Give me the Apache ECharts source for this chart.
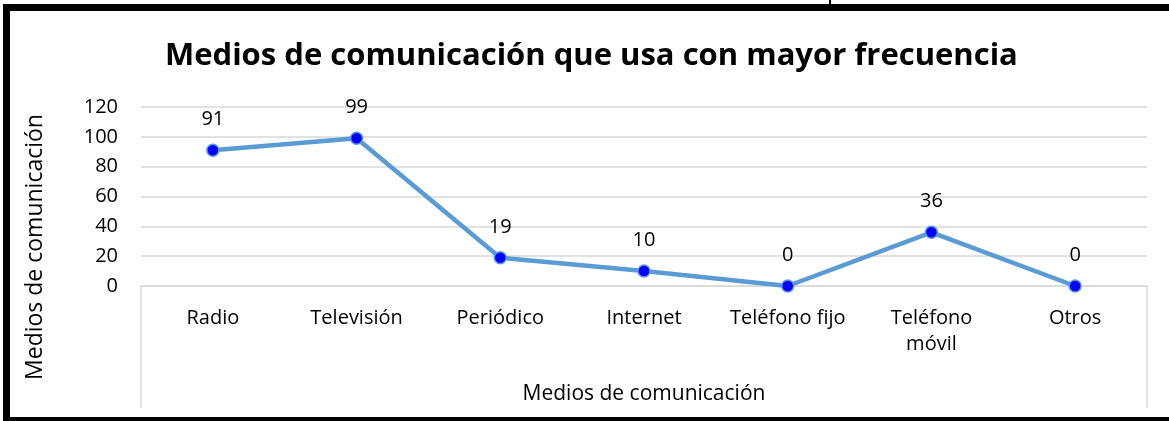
<!DOCTYPE html>
<html><head><meta charset="utf-8">
<script src="https://cdn.jsdelivr.net/npm/echarts@6/dist/echarts.min.js"></script>
<style>html,body{margin:0;padding:0;background:#fff}#c{width:1169px;height:421px}</style>
</head><body><div id="c"></div>
<script>
const categories = ['Radio', 'Televisión', 'Periódico', 'Internet', 'Teléfono fijo', 'Teléfono\nmóvil', 'Otros'];
const values = [91, 99, 19, 10, 0, 36, 0];
const yTicks = [0, 20, 40, 60, 80, 100, 120];
const titleText = 'Medios de comunicación que usa con mayor frecuencia';
const axisName = 'Medios de comunicación';

const FONT = 'Open Sans';
const chart = echarts.init(document.getElementById('c'), null, {renderer: 'canvas'});
const gridLeft = 141, gridRight = 1169 - 1147, gridTop = 107, gridBottom = 421 - 286;
chart.setOption({
  animation: false,
  backgroundColor: '#fff',
  title: {
    text: titleText, left: 160, top: 36,
    textStyle: {fontFamily: FONT, fontWeight: 'bold', fontSize: 31, color: '#000'}
  },
  grid: {left: gridLeft, right: gridRight, top: gridTop, bottom: gridBottom},
  xAxis: {
    type: 'category', data: categories, boundaryGap: true,
    axisLine: {lineStyle: {color: '#d9d9d9', width: 1.5}},
    axisTick: {show: false},
    axisLabel: {fontFamily: FONT, fontSize: 20, color: '#000', margin: 19, lineHeight: 26, interval: 0},
    name: axisName, nameLocation: 'middle', nameGap: 98,
    nameTextStyle: {fontFamily: FONT, fontSize: 21, color: '#000'}
  },
  yAxis: {
    type: 'value', min: yTicks[0], max: yTicks[yTicks.length - 1], interval: 20,
    axisLine: {show: false}, axisTick: {show: false},
    axisLabel: {fontFamily: FONT, fontSize: 20, color: '#000', margin: 23},
    splitLine: {lineStyle: {color: '#d9d9d9', width: 1.5}}
  },
  series: [{
    type: 'line', data: values,
    lineStyle: {color: '#5b9bd5', width: 4.5},
    symbol: 'circle', symbolSize: 12,
    itemStyle: {color: '#0000ff', borderColor: '#5b9bd5', borderWidth: 1.5},
    label: {show: true, position: 'top', distance: 14, fontFamily: FONT, fontSize: 20, color: '#000'}
  }],
  graphic: [
    {type: 'text', x: 35, y: 247, rotation: Math.PI / 2,
     style: {text: axisName, fontFamily: FONT, fontSize: 23, fill: '#000', align: 'center', verticalAlign: 'middle'}},
    {type: 'line', shape: {x1: 141, y1: 286, x2: 141, y2: 408}, style: {stroke: '#d9d9d9', lineWidth: 1.5}},
    {type: 'line', shape: {x1: 1147, y1: 286, x2: 1147, y2: 408}, style: {stroke: '#d9d9d9', lineWidth: 1.5}},
    {type: 'rect', shape: {x: 3, y: 4, width: 1166, height: 7}, style: {fill: '#000'}},
    {type: 'rect', shape: {x: 3, y: 4, width: 7, height: 417}, style: {fill: '#000'}},
    {type: 'rect', shape: {x: 3, y: 417, width: 1166, height: 4}, style: {fill: '#000'}},
    {type: 'rect', shape: {x: 829, y: 0, width: 2, height: 4}, style: {fill: '#000'}}
  ]
});
</script></body></html>
